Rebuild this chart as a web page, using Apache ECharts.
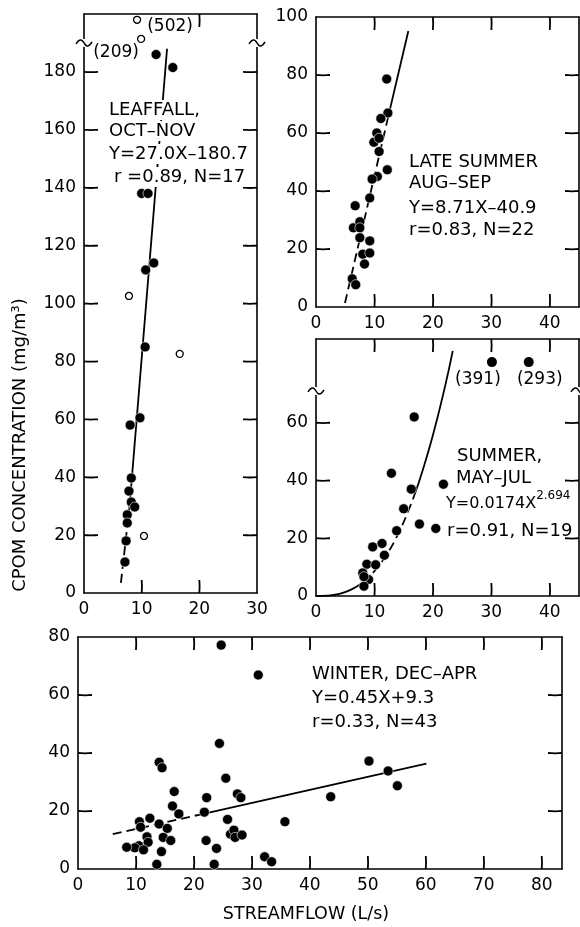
<!DOCTYPE html>
<html><head><meta charset="utf-8">
<script src="https://cdn.jsdelivr.net/npm/echarts@6/dist/echarts.min.js"></script>
<style>html,body{margin:0;padding:0;background:#fff}#c{width:580px;height:927px}</style>
</head><body><div id="c"></div>
<script>
const FONT = 'DejaVu Sans';

// ---------- LEAFFALL, OCT-NOV (upper left) ----------
const leafX = [12.5, 15.4, 10.0, 11.1, 10.7, 12.1, 10.6, 9.7, 8.0, 8.2, 7.8, 8.2, 8.8, 7.5, 7.5, 7.3, 7.1];
const leafY = [186, 181.5, 138, 138, 111.6, 114, 85, 60.5, 58, 39.7, 35.2, 31.4, 29.7, 27, 24.2, 18, 10.7];
const leafOpenX = [9.2, 9.9, 7.8, 16.6, 10.4];
const leafOpenY = [198, 191.4, 102.6, 82.6, 19.7];          // first two drawn above the axis break
const leafOpenLabel = ['(502)', '(209)', '', '', ''];
const leafFitDashX = [6.4, 7.9];  const leafFitDashY = [3.5, 30];
const leafFitX = [7.9, 14.4];     const leafFitY = [30, 188];
const leafBreak = 190;
const leafXLabels = [0, 10, 20, 30];  const leafXTicks = [10, 20];  const leafTopTicks = [20];
const leafYLabels = [0, 20, 40, 60, 80, 100, 120, 140, 160, 180];
const leafYTicks = [20, 40, 60, 80, 100, 120, 140, 160, 180];

// ---------- LATE SUMMER, AUG-SEP (upper right) ----------
const lateX = [12.1, 12.3, 11.1, 10.4, 9.9, 10.8, 10.8, 12.2, 10.5, 9.6, 9.2, 6.7, 6.4, 7.5, 7.5, 7.5, 9.2, 8.0, 9.2, 8.3, 6.2, 6.8];
const lateY = [78.6, 66.9, 65, 60, 56.8, 58.2, 53.6, 47.3, 45, 44.1, 37.6, 34.9, 27.3, 29.4, 27.3, 23.9, 22.8, 18.2, 18.6, 14.8, 9.7, 7.7];
const lateFitDashX = [4.96, 12.4]; const lateFitDashY = [1.4, 66];
const lateFitX = [12.4, 15.8];     const lateFitY = [66, 95.2];
const lateXLabels = [0, 10, 20, 30, 40]; const lateXTicks = [10, 20, 30, 40];
const lateYLabels = [0, 20, 40, 60, 80, 100]; const lateYTicks = [20, 40, 60, 80];

// ---------- SUMMER, MAY-JUL (middle right) ----------
const sumX = [16.8, 12.9, 21.8, 16.3, 15.0, 17.7, 20.5, 13.8, 11.3, 9.7, 11.7, 8.7, 10.2, 8.0, 9.0, 8.2, 8.2];
const sumY = [62, 42.5, 38.7, 37, 30.2, 24.9, 23.4, 22.6, 18.2, 17, 14.1, 11, 10.8, 8, 5.7, 3.4, 6.7];
const sumOutX = [30.1, 36.4];
const sumOutY = [81, 81];                                    // drawn above the axis break
const sumOutLabel = ['(391)', '(293)'];
const sumCurveLowX = [0, 2, 4, 6, 8];            const sumCurveLowY = [0, 0.1, 0.7, 2.2, 4.7];
const sumCurveMidX = [8, 10, 12, 14, 16, 17];    const sumCurveMidY = [4.7, 8.6, 14.1, 21.3, 30.5, 35.9];
const sumCurveTopX = [17, 18, 20, 22, 23.4];     const sumCurveTopY = [35.9, 41.9, 55.7, 71.9, 84.9];
const sumBreak = 71;
const sumXLabels = [0, 10, 20, 30, 40]; const sumXTicks = [10, 20, 30, 40];
const sumYLabels = [0, 20, 40, 60];     const sumYTicks = [20, 40, 60];

// ---------- WINTER, DEC-APR (bottom) ----------
const winX = [24.7, 31.1, 24.4, 14.0, 14.5, 25.5, 16.6, 22.2, 27.5, 28.1, 16.3, 17.4, 21.8, 12.4, 10.6, 10.8, 14.0, 15.4, 25.8, 11.9, 14.7, 16.0, 12.1, 10.5, 9.8, 8.4, 11.3, 14.4, 22.1, 23.9, 13.6, 23.5, 26.3, 26.9, 27.1, 28.3, 32.2, 33.4, 35.7, 50.2, 53.5, 55.1, 43.6];
const winY = [77.2, 66.9, 43.3, 36.8, 34.9, 31.3, 26.7, 24.6, 25.9, 24.6, 21.7, 19, 19.6, 17.5, 16.3, 14.4, 15.5, 14, 17.1, 11.1, 10.9, 9.8, 9.2, 8, 7.3, 7.5, 6.6, 6, 9.8, 7.1, 1.6, 1.6, 12, 13.4, 10.9, 11.7, 4.2, 2.5, 16.3, 37.2, 33.8, 28.7, 24.9];
const winFitDashX = [6.0, 22.0]; const winFitDashY = [12.0, 19.2];
const winFitX = [22.0, 60.1];    const winFitY = [19.2, 36.3];
const winXLabels = [0, 10, 20, 30, 40, 50, 60, 70, 80]; const winXTicks = [10, 20, 30, 40, 50, 60, 70, 80];
const winYLabels = [0, 20, 40, 60, 80]; const winYTicks = [20, 40, 60];

// ---------- helpers ----------
const zip = (a, b) => a.map((v, i) => [v, b[i]]);
const BLACK = '#000';
const lineAxis = { show: true, onZero: false, lineStyle: { color: BLACK, width: 1.6 } };
const labelStyle = { show: true, color: BLACK, fontSize: 17, fontFamily: FONT };

function xPair(gi, max, labels) {
  const base = { gridIndex: gi, type: 'value', min: 0, max: max, interval: 10, splitLine: { show: false },
    axisLine: lineAxis, axisTick: { show: false } };
  return [
    Object.assign({}, base, { position: 'bottom', axisLabel: Object.assign({ customValues: labels, margin: 8 }, labelStyle) }),
    Object.assign({}, base, { position: 'top', axisLabel: { show: false } })
  ];
}
function yPair(gi, max, labels) {
  const base = { gridIndex: gi, type: 'value', min: 0, max: max, interval: 20, splitLine: { show: false },
    axisLine: lineAxis, axisTick: { show: false } };
  return [
    Object.assign({}, base, { position: 'left', axisLabel: Object.assign({ customValues: labels, margin: 8 }, labelStyle) }),
    Object.assign({}, base, { position: 'right', axisLabel: { show: false } })
  ];
}
function fitLine(ai, xs, ys, dashed, smooth) {
  return { type: 'line', xAxisIndex: ai, yAxisIndex: ai, data: zip(xs, ys), symbol: 'none', smooth: !!smooth,
    lineStyle: { color: BLACK, width: 1.8, opacity: 1, type: dashed ? [9, 5] : 'solid' }, z: 3, silent: true, animation: false };
}
function dots(ai, xs, ys) {
  return { type: 'scatter', xAxisIndex: ai, yAxisIndex: ai, data: zip(xs, ys), symbolSize: 10,
    itemStyle: { color: BLACK, opacity: 1, borderColor: '#fff', borderWidth: 0.6 }, z: 5, animation: false };
}
// Frame decorations of one panel (inward ticks on all four sides, optional axis-break marks),
// all placed with api.coord from the tick values and axis extents.
function frame(ai, xMax, yMax, yTicks, xTicks, topTicks, yBreak) {
  return { type: 'custom', xAxisIndex: ai, yAxisIndex: ai, data: [[xMax / 2, yMax / 2]], z: 6, silent: true, animation: false,
    renderItem: function (params, api) {
      const kids = [];
      const tick = (x, y, dx, dy) => kids.push({ type: 'polyline',
        shape: { points: [[x, y], [x + dx / 2 + (dy ? 0.3 : 0), y + dy / 2 + (dx ? 0.3 : 0)], [x + dx, y + dy]], smooth: 0.01 },
        style: { stroke: BLACK, lineWidth: 1.8, fill: 'none' } });
      yTicks.forEach(v => {
        const l = api.coord([0, v]), r = api.coord([xMax, v]);
        tick(l[0], l[1], 14, 0);
        tick(r[0], r[1], -14, 0);
      });
      xTicks.forEach(v => { const b = api.coord([v, 0]); tick(b[0], b[1], 0, -13); });
      topTicks.forEach(v => { const t = api.coord([v, yMax]); tick(t[0], t[1], 0, 13); });
      if (yBreak != null) {
        [0, xMax].forEach(xv => {
          const p = api.coord([xv, yBreak]); const x = p[0], y = p[1];
          kids.push({ type: 'rect', shape: { x: x - 2, y: y - 4, width: 4, height: 8 }, style: { fill: '#fff' } });
          kids.push({ type: 'polyline', shape: { points: [[x - 8, y + 1], [x - 3, y - 3], [x + 3, y + 3], [x + 8, y - 1]], smooth: 0.5 },
            style: { stroke: BLACK, lineWidth: 1.5, fill: 'none' } });
        });
      }
      return { type: 'group', children: kids };
    } };
}
function txt(text, x, y, extra) {
  return Object.assign({ type: 'text', x: x, y: y, z: 100,
    style: Object.assign({ text: text, fill: BLACK, fontSize: 18, fontFamily: FONT, align: 'left', verticalAlign: 'middle' }, (extra || {})) });
}
const outLabel = { color: BLACK, opacity: 1, fontSize: 17, fontFamily: FONT };

const LEAF_XMAX = 30, LATE_XMAX = 45, SUM_XMAX = 45, WIN_XMAX = 83.5;
const LEAF_YMAX = 200, LATE_YMAX = 100, SUM_YMAX = 89, WIN_YMAX = 80;

const option = {
  backgroundColor: '#fff',
  animation: false,
  grid: [
    { left: 84, top: 14, width: 173, height: 579, outerBoundsMode: 'none' },
    { left: 316, top: 17, width: 263, height: 290, outerBoundsMode: 'none' },
    { left: 316, top: 339, width: 263, height: 257, outerBoundsMode: 'none' },
    { left: 78, top: 637, width: 484, height: 232, outerBoundsMode: 'none' }
  ],
  xAxis: [].concat(
    xPair(0, LEAF_XMAX, leafXLabels),
    xPair(1, LATE_XMAX, lateXLabels),
    xPair(2, SUM_XMAX, sumXLabels),
    xPair(3, WIN_XMAX, winXLabels)
  ),
  yAxis: [].concat(
    yPair(0, LEAF_YMAX, leafYLabels),
    yPair(1, LATE_YMAX, lateYLabels),
    yPair(2, SUM_YMAX, sumYLabels),
    yPair(3, WIN_YMAX, winYLabels)
  ),
  series: [
    // Leaffall
    fitLine(0, leafFitDashX, leafFitDashY, true),
    fitLine(0, leafFitX, leafFitY, false),
    dots(0, leafX, leafY),
    { type: 'scatter', xAxisIndex: 0, yAxisIndex: 0, symbolSize: 7, z: 5, animation: false, clip: false,
      itemStyle: { color: '#fff', opacity: 1, borderColor: BLACK, borderWidth: 1.3 },
      data: leafOpenX.map((x, i) => ({ value: [x, leafOpenY[i]],
        label: Object.assign({ show: !!leafOpenLabel[i], formatter: leafOpenLabel[i],
          position: i === 0 ? 'right' : 'left', offset: i === 0 ? [1, 7] : [7, 14] }, outLabel) })) },
    frame(0, LEAF_XMAX, LEAF_YMAX, leafYTicks, leafXTicks, leafTopTicks, leafBreak),
    // Late summer
    fitLine(2, lateFitDashX, lateFitDashY, true),
    fitLine(2, lateFitX, lateFitY, false),
    dots(2, lateX, lateY),
    frame(2, LATE_XMAX, LATE_YMAX, lateYTicks, lateXTicks, lateXTicks, null),
    // Summer
    fitLine(4, sumCurveLowX, sumCurveLowY, false, true),
    fitLine(4, sumCurveMidX, sumCurveMidY, true, true),
    fitLine(4, sumCurveTopX, sumCurveTopY, false, true),
    dots(4, sumX, sumY),
    { type: 'scatter', xAxisIndex: 4, yAxisIndex: 4, symbolSize: 10, z: 5, animation: false,
      itemStyle: { color: BLACK, opacity: 1 },
      data: sumOutX.map((x, i) => ({ value: [x, sumOutY[i]],
        label: Object.assign({ show: true, formatter: sumOutLabel[i],
          position: 'bottom', distance: 4, offset: i === 0 ? [-14, 0] : [11, 0] }, outLabel) })) },
    frame(4, SUM_XMAX, SUM_YMAX, sumYTicks, sumXTicks, sumXTicks, sumBreak),
    // Winter
    fitLine(6, winFitDashX, winFitDashY, true),
    fitLine(6, winFitX, winFitY, false),
    dots(6, winX, winY),
    frame(6, WIN_XMAX, WIN_YMAX, winYTicks, winXTicks, winXTicks, null)
  ],
  graphic: [
    txt('LEAFFALL,', 107, 110, { backgroundColor: '#fff', padding: [1, 2] }),
    txt('OCT–NOV', 107, 131, { backgroundColor: '#fff', padding: [1, 2] }),
    txt('Y=27.0X–180.7', 107, 154, { backgroundColor: '#fff', padding: [1, 2] }),
    txt('r =0.89, N=17', 112, 177, { backgroundColor: '#fff', padding: [1, 2] }),

    txt('LATE SUMMER', 409, 162),
    txt('AUG–SEP', 409, 183),
    txt('Y=8.71X–40.9', 409, 208),
    txt('r=0.83, N=22', 409, 230),

    txt('SUMMER,', 457, 456),
    txt('MAY–JUL', 456, 478),
    txt('{b|Y=0.0174X}{s|2.694}', 446, 504, {
      rich: { b: { fontSize: 16, lineHeight: 28, fontFamily: FONT, fill: BLACK },
              s: { fontSize: 12, lineHeight: 12, fontFamily: FONT, fill: BLACK, verticalAlign: 'top' } } }),
    txt('r=0.91, N=19', 447, 531),

    txt('WINTER, DEC–APR', 312, 674),
    txt('Y=0.45X+9.3', 312, 698),
    txt('r=0.33, N=43', 312, 722),

    txt('CPOM CONCENTRATION (mg/m³)', 20, 445, { align: 'center' }),
    txt('STREAMFLOW (L/s)', 306, 914, { align: 'center', fontSize: 17.5 })
  ]
};
// rotate y title
option.graphic[option.graphic.length - 2].rotation = Math.PI / 2;

const chart = echarts.init(document.getElementById('c'), null, { renderer: 'canvas' });
chart.setOption(option);
</script>
</body></html>
